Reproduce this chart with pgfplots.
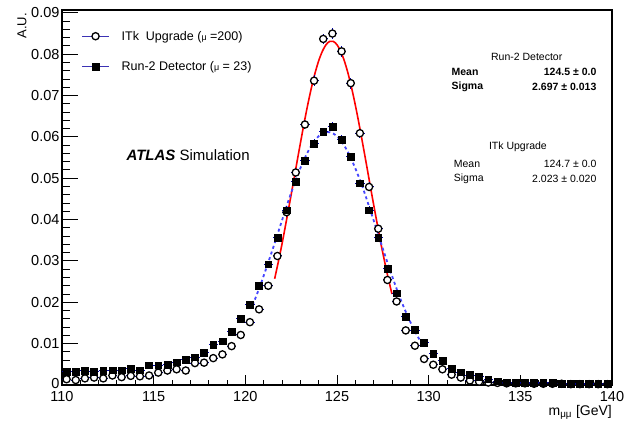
\documentclass[border=0pt]{standalone}
\usepackage{fontspec}
\setmainfont{Liberation Sans}
\usepackage{pgfplots}
\pgfplotsset{compat=1.18}
\usepackage{pgfplotstable}
\definecolor{legline}{RGB}{60,50,180}
\definecolor{errblue}{RGB}{0,0,170}
\definecolor{fitblue}{RGB}{70,70,255}
\definecolor{fitred}{RGB}{255,0,0}

\pgfplotstableread{
x y e
110.25 0.0032 0.0003
110.75 0.0032 0.0003
111.25 0.0035 0.0003
111.75 0.0033 0.0003
112.25 0.0035 0.0003
112.75 0.0036 0.0003
113.25 0.0036 0.0003
113.75 0.0040 0.0003
114.25 0.0036 0.0003
114.75 0.0048 0.0003
115.25 0.0048 0.0003
115.75 0.0049 0.0003
116.25 0.0055 0.0005
116.75 0.0061 0.0005
117.25 0.0067 0.0005
117.75 0.0078 0.0005
118.25 0.0097 0.0005
118.75 0.0106 0.0005
119.25 0.0129 0.0005
119.75 0.0160 0.0007
120.25 0.0194 0.0007
120.75 0.0240 0.0007
121.25 0.0292 0.0007
121.75 0.0357 0.0009
122.25 0.0423 0.0009
122.75 0.0491 0.0009
123.25 0.0542 0.0010
123.75 0.0584 0.0010
124.25 0.0612 0.0010
124.75 0.0625 0.0010
125.25 0.0594 0.0010
125.75 0.0552 0.0010
126.25 0.0488 0.0009
126.75 0.0423 0.0009
127.25 0.0357 0.0009
127.75 0.0282 0.0007
128.25 0.0222 0.0007
128.75 0.0165 0.0007
129.25 0.0133 0.0005
129.75 0.0103 0.0005
130.25 0.0076 0.0005
130.75 0.0059 0.0005
131.25 0.0040 0.0003
131.75 0.0031 0.0003
132.25 0.0024 0.0003
132.75 0.0020 0.0003
133.25 0.0014 0.0003
133.75 0.0009 0.0003
134.25 0.0007 0.0003
134.75 0.0006 0.0003
135.25 0.0006 0.0003
135.75 0.0005 0.0003
136.25 0.0005 0.0003
136.75 0.0005 0.0003
137.25 0.0004 0.0003
137.75 0.0004 0.0003
138.25 0.0004 0.0003
138.75 0.0003 0.0003
139.25 0.0003 0.0003
139.75 0.0003 0.0003
}\runtwo

\pgfplotstableread{
x y e
110.25 0.0014 0.0003
110.75 0.0012 0.0003
111.25 0.0016 0.0003
111.75 0.0018 0.0003
112.25 0.0016 0.0003
112.75 0.0023 0.0003
113.25 0.0019 0.0003
113.75 0.0022 0.0003
114.25 0.0021 0.0003
114.75 0.0023 0.0003
115.25 0.0030 0.0003
115.75 0.0035 0.0003
116.25 0.0038 0.0003
116.75 0.0035 0.0003
117.25 0.0053 0.0003
117.75 0.0054 0.0003
118.25 0.0065 0.0003
118.75 0.0074 0.0003
119.25 0.0094 0.0005
119.75 0.0121 0.0005
120.25 0.0152 0.0005
120.75 0.0183 0.0005
121.25 0.0240 0.0008
121.75 0.0312 0.0008
122.25 0.0418 0.0011
122.75 0.0514 0.0011
123.25 0.0630 0.0011
123.75 0.0736 0.0013
124.25 0.0837 0.0013
124.75 0.0850 0.0013
125.25 0.0807 0.0013
125.75 0.0730 0.0013
126.25 0.0609 0.0011
126.75 0.0479 0.0011
127.25 0.0378 0.0008
127.75 0.0254 0.0008
128.25 0.0202 0.0008
128.75 0.0132 0.0005
129.25 0.0095 0.0005
129.75 0.0063 0.0003
130.25 0.0049 0.0003
130.75 0.0038 0.0003
131.25 0.0025 0.0003
131.75 0.0018 0.0003
132.25 0.0011 0.0003
132.75 0.0008 0.0003
133.25 0.0006 0.0003
133.75 0.0005 0.0003
134.25 0.0004 0.0003
134.75 0.0004 0.0003
135.25 0.0004 0.0003
135.75 0.0003 0.0003
136.25 0.0003 0.0003
136.75 0.0003 0.0003
137.25 0.0003 0.0003
137.75 0.0002 0.0003
138.25 0.0002 0.0003
138.75 0.0002 0.0003
139.25 0.0002 0.0003
139.75 0.0002 0.0003
}\itk

\pgfplotstableread{
x y
121.6 0.0257
121.8 0.0298
122.0 0.0341
122.2 0.0388
122.4 0.0436
122.6 0.0485
122.8 0.0535
123.0 0.0584
123.2 0.0632
123.4 0.0677
123.6 0.0718
123.8 0.0754
124.0 0.0784
124.2 0.0807
124.4 0.0823
124.6 0.0831
124.8 0.0831
125.0 0.0823
125.2 0.0807
125.4 0.0784
125.6 0.0754
125.8 0.0718
126.0 0.0677
126.2 0.0632
126.4 0.0584
126.6 0.0535
126.8 0.0485
127.0 0.0436
127.2 0.0388
127.4 0.0341
127.6 0.0298
127.8 0.0257
128.0 0.0220
}\itkfit

\pgfplotstableread{
x y
120.4 0.0193
120.8 0.0239
121.2 0.0290
121.6 0.0343
122.0 0.0398
122.4 0.0452
122.8 0.0502
123.2 0.0545
123.6 0.0579
124.0 0.0602
124.4 0.0612
124.8 0.0608
125.2 0.0592
125.6 0.0563
126.0 0.0524
126.4 0.0478
126.8 0.0425
127.2 0.0371
127.6 0.0316
128.0 0.0264
128.4 0.0215
128.8 0.0172
129.2 0.0134
129.6 0.0102
}\runtwofit

\begin{document}
\begin{tikzpicture}
\useasboundingbox (-62pt,-37pt) rectangle (562pt,385pt);
\begin{axis}[
  at={(0pt,0pt)}, anchor=south west,
  scale only axis, width=550pt, height=375pt,
  xmin=110, xmax=140, ymin=0, ymax=0.0907,
  xtick={110,115,120,125,130,135,140},
  xticklabels={110,115,120,125,130,135,140},
  ytick={0,0.01,0.02,0.03,0.04,0.05,0.06,0.07,0.08,0.09},
  yticklabels={\raisebox{3pt}{0},0.01,0.02,0.03,0.04,0.05,0.06,0.07,0.08,0.09},
  scaled y ticks=false,
  minor x tick num=4, minor y tick num=4,
  tick align=inside, xtick pos=left, ytick pos=left,
  xtick style={/pgfplots/major tick length=10pt,/pgfplots/minor tick length=5pt},
  ytick style={/pgfplots/major tick length=16pt,/pgfplots/minor tick length=8pt},
  tick style={black, line width=1pt},
  axis line style={black, line width=1.3pt},
  ticklabel style={font=\fontsize{14.5}{14.5}\selectfont},
  yticklabel style={xshift=1pt},
  xticklabel style={yshift=-3pt},
  legend cell align=left,
  legend style={at={(rel axis cs:0.035,0.95)}, anchor=north west, draw=none, fill=none,
    font=\fontsize{12.5}{14}\selectfont, row sep=16pt, inner sep=0pt,
    /tikz/every odd column/.append style={column sep=10pt}},
  legend image code/.code={
    \draw[legline, line width=1.2pt] (0pt,0pt) -- (27pt,0pt);
    \draw[mark repeat=2,mark phase=2,#1] plot coordinates {(0pt,0pt) (13.5pt,0pt) (27pt,0pt)};
  },
]
\addplot[fitred, line width=1.6pt, smooth, forget plot] table[x=x,y=y] {\itkfit};
\addplot[fitblue, line width=1.8pt, dash pattern=on 3pt off 3pt, smooth, forget plot] table[x=x,y=y] {\runtwofit};

% error bars first, markers on top
\addplot[forget plot, only marks, mark=none,
  error bars/.cd, x dir=both, x fixed=0.25, y dir=both, y explicit,
  error bar style={errblue, line width=1pt}, error mark=none]
  table[x=x, y=y, y error=e] {\itk};
\addplot[forget plot, only marks, mark=none,
  error bars/.cd, x dir=both, x fixed=0.25, y dir=both, y explicit,
  error bar style={errblue, line width=1pt}, error mark=none]
  table[x=x, y=y, y error=e] {\runtwo};

\addplot[only marks, mark=*, mark size=3.6pt, mark options={draw=black, fill=white, line width=1.3pt}]
  table[x=x, y=y] {\itk};
\addlegendentry{ITk\ \ Upgrade ({\small μ} =200)}

\addplot[only marks, mark=square*, mark size=3.4pt, mark options={draw=black, fill=black}]
  table[x=x, y=y] {\runtwo};
\addlegendentry{Run-2 Detector ({\small μ} = 23)}

\node[anchor=west, font=\fontsize{15}{15}\selectfont] at (rel axis cs:0.111,0.613) {\textbf{\textit{ATLAS}} Simulation};

\node[font=\fontsize{10.5}{10.5}\selectfont] at (rel axis cs:0.845,0.875) {Run-2 Detector};
\node[anchor=west, font=\fontsize{10.5}{10.5}\selectfont\bfseries] at (rel axis cs:0.702,0.835) {Mean};
\node[anchor=east, font=\fontsize{10.5}{10.5}\selectfont\bfseries] at (rel axis cs:0.978,0.835) {124.5 ± 0.0};
\node[anchor=west, font=\fontsize{10.5}{10.5}\selectfont\bfseries] at (rel axis cs:0.702,0.795) {Sigma};
\node[anchor=east, font=\fontsize{10.5}{10.5}\selectfont\bfseries] at (rel axis cs:0.978,0.795) {2.697 ± 0.013};

\node[font=\fontsize{10.5}{10.5}\selectfont] at (rel axis cs:0.829,0.635) {ITk Upgrade};
\node[anchor=west, font=\fontsize{10.5}{10.5}\selectfont] at (rel axis cs:0.706,0.589) {Mean};
\node[anchor=east, font=\fontsize{10.5}{10.5}\selectfont] at (rel axis cs:0.978,0.589) {124.7 ± 0.0};
\node[anchor=west, font=\fontsize{10.5}{10.5}\selectfont] at (rel axis cs:0.706,0.549) {Sigma};
\node[anchor=east, font=\fontsize{10.5}{10.5}\selectfont] at (rel axis cs:0.978,0.549) {2.023 ± 0.020};
\end{axis}
\node[rotate=90, anchor=east, inner sep=0pt, font=\fontsize{13}{13}\selectfont] at (-40pt,372pt) {A.U.};
\node[anchor=north east, inner sep=0pt, font=\fontsize{14}{14}\selectfont] at (550pt,-20pt) {m\textsubscript{μμ} [GeV]};
\end{tikzpicture}
\end{document}
